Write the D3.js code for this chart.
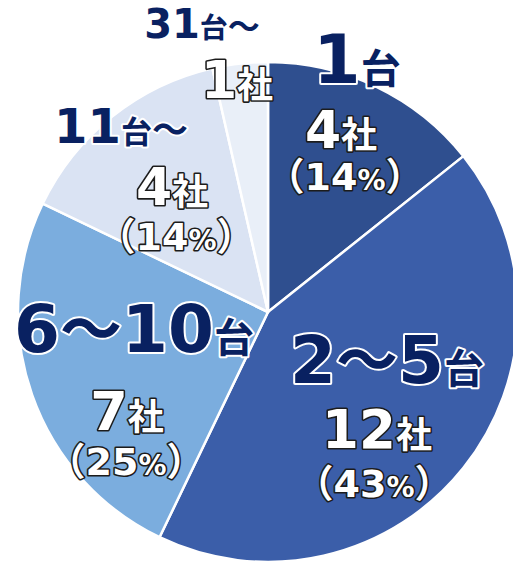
<!DOCTYPE html>
<html>
<head>
<meta charset="utf-8">
<script src="https://cdn.jsdelivr.net/npm/d3@7"></script>
<style>
  html, body { margin: 0; padding: 0; background: #ffffff; }
  svg { display: block; }
</style>
</head>
<body>
<svg id="chart" width="513" height="564"></svg>
<script>
// Fleet size bands and the number of companies in each
const categories = ["1台", "2～5台", "6～10台", "11台～", "31台～"];
const companies = [4, 12, 7, 4, 1];
const showPercent = [true, true, true, true, false];
const sliceColors = ["#2f4f8f", "#3b5ea9", "#7badde", "#dae3f3", "#e9eff8"];

// Label placement and type sizes for each slice
const labelLayout = [
  { cat: [357, 83],  cnt: [341, 148], pct: [345, 190], catNum: 68, catKanji: 40, catTilde: 40, cntNum: 52, cntKanji: 36 },
  { cat: [387, 383], cnt: [377, 448], pct: [374, 497], catNum: 66, catKanji: 40, catTilde: 62, cntNum: 53, cntKanji: 36 },
  { cat: [134, 352], cnt: [127, 430], pct: [126, 475], catNum: 66, catKanji: 40, catTilde: 62, cntNum: 54, cntKanji: 36 },
  { cat: [121, 143], cnt: [172, 205], pct: [176, 250], catNum: 48, catKanji: 31, catTilde: 36, cntNum: 52, cntKanji: 36 },
  { cat: [202, 38],  cnt: [237, 98],  pct: null,       catNum: 40, catKanji: 28, catTilde: 32, cntNum: 52, cntKanji: 36 }
];

const svg = d3.select("#chart");
const cx = 268, cy = 312, radius = 250;
const total = d3.sum(companies);
const percents = companies.map(v => Math.round(v / total * 100));

const pie = d3.pie().sort(null).value(d => d);
const arc = d3.arc().innerRadius(0).outerRadius(radius);

const g = svg.append("g").attr("transform", `translate(${cx},${cy})`);
g.selectAll("path.slice")
  .data(pie(companies))
  .join("path")
  .attr("class", "slice")
  .attr("d", arc)
  .attr("fill", (d, i) => sliceColors[i])
  .attr("stroke", "#ffffff")
  .attr("stroke-width", 2.5)
  .attr("stroke-linejoin", "round");

const NUM_FONT = "'DejaVu Sans', 'Liberation Sans', sans-serif";
const CJK_FONT = "'Noto Sans CJK JP', 'Noto Sans', sans-serif";

// Split a label into runs of digits and Japanese glyphs, each with its own size
function addLabel(parent, str, x, y, sizes, style) {
  const runs = [];
  for (const ch of str) {
    let kind;
    if (/[0-9%]/.test(ch)) kind = ch === "%" ? "pctSign" : "num";
    else if (ch === "～") kind = "tilde";
    else if (ch === "（" || ch === "）") kind = "paren";
    else kind = "kanji";
    const last = runs[runs.length - 1];
    if (last && last.kind === kind) last.text += ch;
    else runs.push({ kind, text: ch });
  }
  const t = parent.append("text")
    .attr("x", x).attr("y", y)
    .attr("text-anchor", "middle")
    .attr("font-weight", "bold")
    .style("paint-order", "stroke")
    .attr("stroke-linejoin", "round");
  if (style === "cat") {
    t.attr("fill", "#092161").attr("stroke", "#ffffff").attr("stroke-width", 4);
  } else {
    t.attr("fill", "#ffffff").attr("stroke", "#1c1c1c").attr("stroke-width", 3.2);
  }
  runs.forEach(r => {
    const isNum = r.kind === "num" || r.kind === "pctSign";
    t.append("tspan")
      .attr("font-family", isNum ? NUM_FONT : CJK_FONT)
      .attr("font-size", sizes[r.kind])
      .text(r.text);
  });
  return t;
}

const labels = svg.append("g").attr("class", "labels");
categories.forEach((c, i) => {
  const L = labelLayout[i];
  addLabel(labels, c, L.cat[0], L.cat[1],
    { num: L.catNum, kanji: L.catKanji, tilde: L.catTilde }, "cat");
  addLabel(labels, companies[i] + "社", L.cnt[0], L.cnt[1],
    { num: L.cntNum, kanji: L.cntKanji }, "val");
  if (showPercent[i] && L.pct) {
    addLabel(labels, "（" + percents[i] + "%）", L.pct[0], L.pct[1],
      { num: 38, pctSign: 28, paren: 38 }, "val");
  }
});
</script>
</body>
</html>
